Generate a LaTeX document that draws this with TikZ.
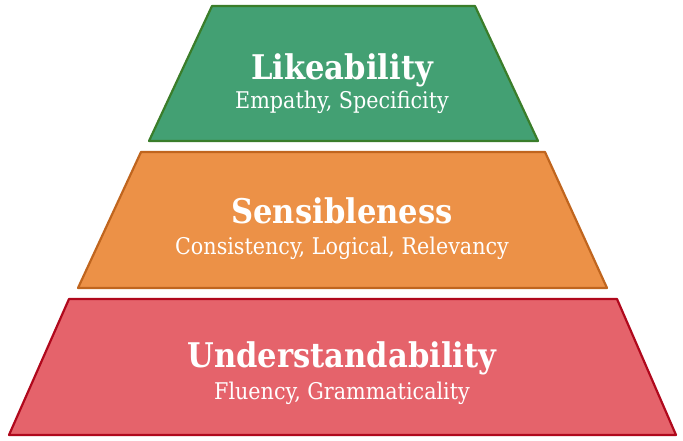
\documentclass[tikz,border=0pt]{standalone}
\usepackage{fontspec}
\setmainfont{DejaVu Serif Condensed}
\definecolor{gfill}{HTML}{43A073}
\definecolor{gline}{HTML}{3A7D2A}
\definecolor{ofill}{HTML}{EC9147}
\definecolor{oline}{HTML}{C0651E}
\definecolor{rfill}{HTML}{E5636B}
\definecolor{rline}{HTML}{B0081C}
\tikzset{
  tier/.style={line width=2.2pt, line join=round},
  ttl/.style={anchor=base, text=white, inner sep=0pt, font=\fontsize{34}{34}\selectfont\bfseries},
  sub/.style={anchor=base, text=white, inner sep=0pt, font=\fontsize{23}{23}\selectfont},
}
\begin{document}
\begin{tikzpicture}[x=1pt,y=-1pt]
\useasboundingbox (0,0) rectangle (683,440);
\draw[tier, fill=gfill, draw=gline] (212,6) -- (475,6) -- (538,141) -- (149,141) -- cycle;
\draw[tier, fill=ofill, draw=oline] (141,152) -- (545,152) -- (607,288) -- (78,288) -- cycle;
\draw[tier, fill=rfill, draw=rline] (69,299) -- (617,299) -- (676,435) -- (9,435) -- cycle;
\node[ttl] (t1) at (342,79) {Likeability};
\node[sub] (s1) at (342,108) {Empathy, Specificity};
\node[ttl] (t2) at (342,223) {Sensibleness};
\node[sub] (s2) at (342,254) {Consistency, Logical, Relevancy};
\node[ttl] (t3) at (342,367) {Understandability};
\node[sub] (s3) at (342,399) {Fluency, Grammaticality};
\end{tikzpicture}
\end{document}
